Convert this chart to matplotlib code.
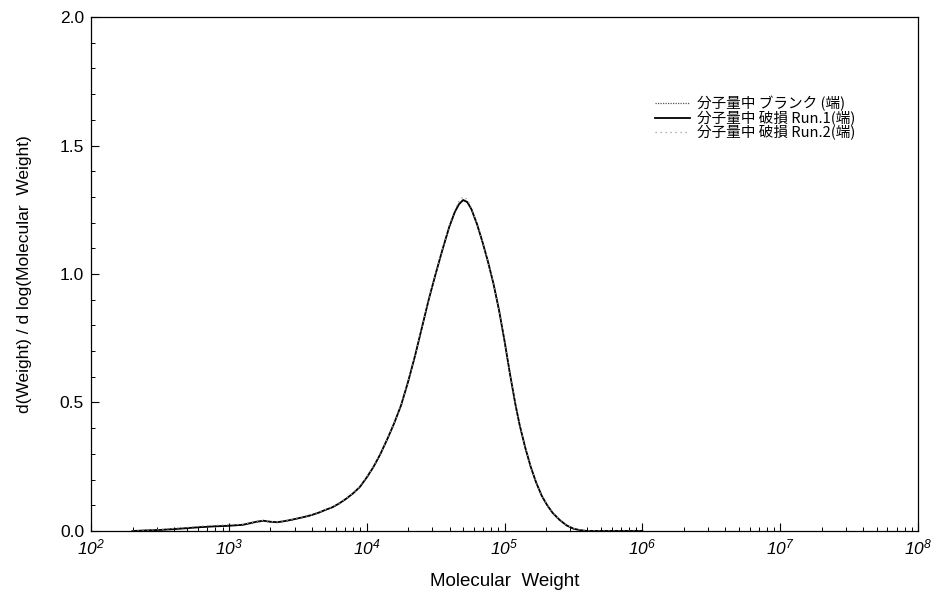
#!/usr/bin/env python3
"""GPC molecular weight distribution: blank vs damaged runs (edge samples)."""
import numpy as np
import matplotlib; matplotlib.use("Agg"); import matplotlib.pyplot as plt
from matplotlib.ticker import LogLocator, MultipleLocator, NullFormatter

plt.rcParams["font.family"] = ["Liberation Sans", "DejaVu Sans"]
plt.rcParams["mathtext.fontset"] = "custom"
plt.rcParams["mathtext.it"] = "Liberation Sans:italic"
plt.rcParams["mathtext.rm"] = "Liberation Sans:italic"

# log10(molecular weight) sample points
log_mw = [2.30, 2.40, 2.50, 2.60, 2.70, 2.80, 2.90, 3.00, 3.10, 3.15, 3.20, 3.25,
          3.30, 3.35, 3.40, 3.45, 3.50, 3.55, 3.60, 3.65, 3.70, 3.75, 3.80, 3.85,
          3.90, 3.95, 4.00, 4.05, 4.10, 4.15, 4.20, 4.25, 4.30, 4.35, 4.40, 4.45,
          4.50, 4.55, 4.60, 4.64, 4.67, 4.70, 4.73, 4.76, 4.80, 4.84, 4.88, 4.92,
          4.96, 5.00, 5.04, 5.08, 5.11, 5.15, 5.19, 5.23, 5.27, 5.31, 5.35, 5.40,
          5.45, 5.50, 5.55, 5.60, 6.00]
run1 = [0.000, 0.002, 0.004, 0.007, 0.011, 0.015, 0.018, 0.020, 0.024, 0.030, 0.036, 0.040,
        0.036, 0.034, 0.038, 0.043, 0.049, 0.055, 0.062, 0.071, 0.082, 0.092, 0.107, 0.125,
        0.146, 0.171, 0.208, 0.250, 0.300, 0.358, 0.420, 0.490, 0.580, 0.680, 0.790, 0.900,
        1.000, 1.095, 1.185, 1.242, 1.272, 1.288, 1.280, 1.252, 1.195, 1.125, 1.048, 0.962,
        0.860, 0.740, 0.610, 0.490, 0.412, 0.325, 0.250, 0.188, 0.137, 0.100, 0.070, 0.043,
        0.022, 0.009, 0.003, 0.000, 0.000]
blank = [0.000, 0.003, 0.005, 0.009, 0.013, 0.016, 0.019, 0.022, 0.023, 0.028, 0.034, 0.038,
         0.035, 0.033, 0.037, 0.042, 0.048, 0.054, 0.061, 0.070, 0.081, 0.091, 0.106, 0.124,
         0.145, 0.170, 0.207, 0.249, 0.299, 0.357, 0.419, 0.489, 0.579, 0.679, 0.789, 0.899,
         0.999, 1.094, 1.184, 1.241, 1.271, 1.287, 1.279, 1.251, 1.194, 1.124, 1.047, 0.961,
         0.859, 0.739, 0.609, 0.489, 0.411, 0.324, 0.249, 0.187, 0.136, 0.099, 0.069, 0.042,
         0.021, 0.008, 0.003, 0.000, 0.000]
run2 = [0.000, 0.002, 0.005, 0.010, 0.014, 0.019, 0.022, 0.024, 0.026, 0.031, 0.037, 0.041,
        0.037, 0.035, 0.039, 0.044, 0.050, 0.056, 0.063, 0.072, 0.083, 0.093, 0.108, 0.126,
        0.147, 0.172, 0.209, 0.251, 0.301, 0.359, 0.421, 0.491, 0.581, 0.681, 0.791, 0.901,
        1.001, 1.097, 1.190, 1.250, 1.285, 1.300, 1.290, 1.257, 1.197, 1.126, 1.049, 0.963,
        0.861, 0.741, 0.611, 0.491, 0.413, 0.326, 0.251, 0.189, 0.138, 0.101, 0.071, 0.044,
        0.023, 0.010, 0.004, 0.001, 0.000]
labels = ["分子量中 ブランク (端)", "分子量中 破損 Run.1(端)", "分子量中 破損 Run.2(端)"]

mw = 10 ** np.array(log_mw)

fig = plt.figure(figsize=(9.52, 5.97), dpi=100)
ax = fig.add_axes([0.0956, 0.1106, 0.8687, 0.8609])
ax.plot(mw, blank, color="#555555", lw=0.9, ls=(0, (1, 1)), label=labels[0])
ax.plot(mw, run1, color="black", lw=1.3, ls="-", label=labels[1])
ax.plot(mw, run2, color="#999999", lw=0.9, ls=(0, (1, 3)), label=labels[2])

ax.set_xscale("log")
ax.set_xlim(1e2, 1e8); ax.set_ylim(0, 2.0)
ax.set_xticks([10 ** k for k in range(2, 9)])
ax.set_xticklabels([rf"$10^{{{k}}}$" for k in range(2, 9)])
ax.xaxis.set_minor_locator(LogLocator(base=10, subs=np.arange(2, 10), numticks=100))
ax.xaxis.set_minor_formatter(NullFormatter())
ax.yaxis.set_major_locator(MultipleLocator(0.5))
ax.yaxis.set_minor_locator(MultipleLocator(0.1))
ax.yaxis.set_major_formatter(plt.FormatStrFormatter("%.1f"))
ax.tick_params(which="both", direction="in", top=False, right=False, labelsize=12.5)
ax.tick_params(which="major", length=6, width=0.8, pad=5)
ax.tick_params(which="minor", length=3, width=0.7)
for s in ax.spines.values(): s.set_linewidth(0.9)

ax.set_xlabel("Molecular  Weight", fontsize=13.5, labelpad=11)
ax.set_ylabel("d(Weight) / d log(Molecular  Weight)", fontsize=12.5, labelpad=20)

ax.legend(loc="upper left", bbox_to_anchor=(0.682, 0.846), frameon=False,
          prop={"family": ["Noto Sans CJK JP", "DejaVu Sans"], "size": 10.5},
          handlelength=2.4, handletextpad=0.5, labelspacing=-0.05, borderaxespad=0,
          borderpad=0)

fig.savefig("out.png", dpi=100)
